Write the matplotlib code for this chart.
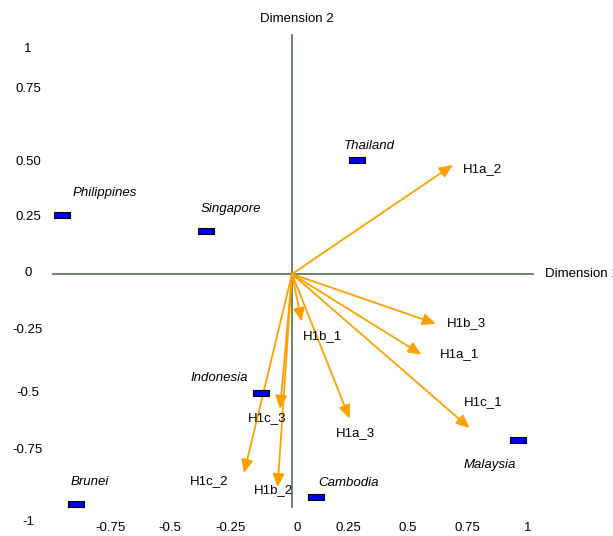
import matplotlib
matplotlib.use("Agg")
import matplotlib.pyplot as plt
from matplotlib.patches import FancyArrowPatch

plt.rcParams['font.family'] = ['Liberation Sans', 'DejaVu Sans']

# object scores (countries)
countries = ["Philippines", "Singapore", "Thailand", "Indonesia", "Brunei", "Cambodia", "Malaysia"]
country_x = [-0.96, -0.36, 0.27, -0.13, -0.90, 0.10, 0.94]
country_y = [0.25, 0.18, 0.48, -0.50, -0.97, -0.94, -0.70]

# variable loadings (vectors from origin)
variables = ["H1a_1", "H1a_2", "H1a_3", "H1b_1", "H1b_2", "H1b_3", "H1c_1", "H1c_2", "H1c_3"]
var_x = [0.54, 0.67, 0.24, 0.04, -0.06, 0.60, 0.74, -0.20, -0.05]
var_y = [-0.34, 0.46, -0.61, -0.20, -0.90, -0.21, -0.65, -0.84, -0.57]

x_tick_labels = ["-0.75", "-0.5", "-0.25", "0", "0.25", "0.5", "0.75", "1"]
y_tick_labels = ["1", "0.75", "0.50", "0.25", "0", "-0.25", "-0.5", "-0.75", "-1"]

# where the tick texts sit (data units)
x_tick_pos = [-0.758, -0.508, -0.258, 0.021, 0.233, 0.483, 0.729, 0.983]
y_tick_pos = [0.949, 0.781, 0.473, 0.241, 0.004, -0.236, -0.502, -0.743, -1.046]

# label offsets in points
country_offsets = [(8, 16), (-3.6, 16), (-9.4, 10), (-50.4, 10.4), (-3.6, 15.5), (1.4, 10), (-38.9, -18.4)]
var_offsets = [(13, 0.7), (7.4, -2.9), (-10, -10.8), (0.7, -10.6), (-16.8, -1.7),
               (7.9, 0.5), (-4.1, 18.4), (-38.9, -5.5), (-23, -6.3)]

FS = 9.5
axis_col = '#50704f'
arrow_col = '#ffa000'

fig = plt.figure(figsize=(6.13, 5.36), dpi=100)
ax = fig.add_axes([0, 0, 1, 1])
ax.set_xlim(-292 / 240, (613 - 292) / 240)
ax.set_ylim(-(536 - 274) / 237, 274 / 237)
ax.axis('off')

# cross axes
ax.plot([-0.996, 1.004], [0, 0], color=axis_col, lw=1.2, zorder=1)
ax.plot([0, 0], [-0.985, 1.008], color=axis_col, lw=1.2, zorder=1)

ax.text(0.018, 1.077, "Dimension 2", fontsize=FS, ha='center', va='center')
ax.text(1.054, 0.0, "Dimension 1", fontsize=FS, ha='left', va='center')

for lab, xp in zip(x_tick_labels, x_tick_pos):
    ax.text(xp, -1.072, lab, fontsize=FS, ha='center', va='center')
for lab, yp in zip(y_tick_labels, y_tick_pos):
    ax.text(-1.1, yp, lab, fontsize=FS, ha='center', va='center')

# loading vectors
for name, vx, vy, off in zip(variables, var_x, var_y, var_offsets):
    arr = FancyArrowPatch((0, 0), (vx, vy), arrowstyle='-|>,head_length=8,head_width=3.5',
                          color=arrow_col, lw=1.3, shrinkA=0, shrinkB=0, zorder=3)
    ax.add_patch(arr)
    ax.annotate(name, (vx, vy), xytext=off, textcoords='offset points',
                fontsize=FS, ha='left', va='center')

# country points
rect = [(-1, -0.45), (1, -0.45), (1, 0.45), (-1, 0.45), (-1, -0.45)]
ax.scatter(country_x, country_y, marker=rect, s=117, color='#0000f0',
           edgecolors='black', linewidths=0.8, zorder=4)
for name, cx, cy, off in zip(countries, country_x, country_y, country_offsets):
    ax.annotate(name, (cx, cy), xytext=off, textcoords='offset points',
                fontsize=FS, style='italic', ha='left', va='center')

fig.savefig("out.png", dpi=100)
